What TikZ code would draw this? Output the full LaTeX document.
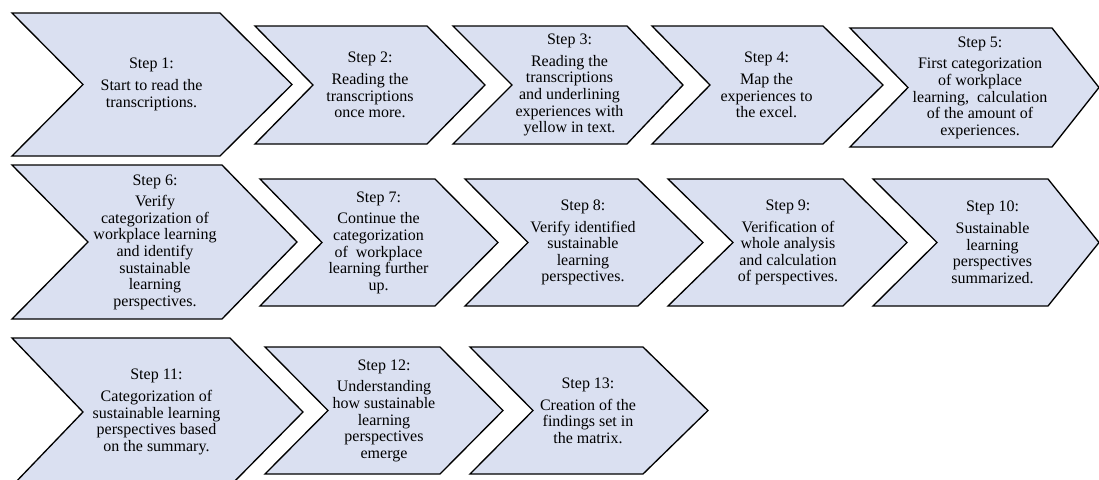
\documentclass[tikz,border=0pt]{standalone}
\usepackage{fontspec}
\setmainfont{Liberation Serif}
\definecolor{chevfill}{RGB}{218,224,241}
\tikzset{
  chev/.style={draw=black, fill=chevfill, line width=1pt, line join=miter},
  steptext/.style={align=center, font=\fontsize{12}{12.4}\selectfont, inner sep=0pt},
}
% #1 left, #2 notch, #3 right, #4 tip, #5 top, #6 bottom, #7 name, #8 text
\newcommand{\chevshape}[8]{%
  \draw[chev] (#1,#5) -- (#3,#5) -- (#4,{(#5+#6)/2}) -- (#3,#6) -- (#1,#6) -- (#2,{(#5+#6)/2}) -- cycle;
  \node[steptext] (#7) at ({(#2+#3)/2},{(#5+#6)/2}) {#8};
}
\begin{document}
\begin{tikzpicture}[x=0.75pt,y=-0.75pt]
\useasboundingbox (0,0) rectangle (1099,479);
\clip (0,0) rectangle (1099,479);
% row 1
\chevshape{12}{83}{220}{292}{13}{156}{s1}{Step 1:\\[4pt]Start to read the\\transcriptions.}
\chevshape{255}{313}{427}{485}{26}{144}{s2}{Step 2:\\[4pt]Reading the\\transcriptions\\once more.}
\chevshape{453}{512}{627}{683}{26}{144}{s3}{Step 3:\\[4pt]Reading the\\transcriptions\\and underlining\\experiences with\\yellow in text.}
\chevshape{652}{710}{823}{883}{26}{144}{s4}{Step 4:\\[4pt]Map the\\experiences to\\the excel.}
\chevshape{850}{908}{1052}{1099}{28}{147}{s5}{Step 5:\\[4pt]First categorization\\of workplace\\learning,\ \ calculation\\of the amount of\\experiences.}
% row 2
\chevshape{12}{88}{222}{297}{165}{319}{s6}{Step 6:\\[4pt]Verify\\categorization of\\workplace learning\\and identify\\sustainable\\learning\\perspectives.}
\chevshape{260}{322}{435}{498}{179}{306}{s7}{Step 7:\\[4pt]Continue the\\categorization\\of\ \ workplace\\learning further\\up.}
\chevshape{465}{528}{638}{703}{179}{306}{s8}{Step 8:\\[4pt]Verify identified\\sustainable\\learning\\perspectives.}
\chevshape{668}{733}{843}{907}{179}{306}{s9}{Step 9:\\[4pt]Verification of\\whole analysis\\and calculation\\of perspectives.}
\chevshape{873}{937}{1048}{1099}{179}{306}{s10}{Step 10:\\[4pt]Sustainable\\learning\\perspectives\\summarized.}
% row 3
\chevshape{12}{83}{230}{303}{338}{486}{s11}{Step 11:\\[4pt]Categorization of\\sustainable learning\\perspectives based\\on the summary.}
\chevshape{265}{328}{440}{503}{347}{474}{s12}{Step 12:\\[4pt]Understanding\\how sustainable\\learning\\perspectives\\emerge}
\chevshape{470}{533}{643}{708}{347}{474}{s13}{Step 13:\\[4pt]Creation of the\\findings set in\\the matrix.}
\end{tikzpicture}
\end{document}
